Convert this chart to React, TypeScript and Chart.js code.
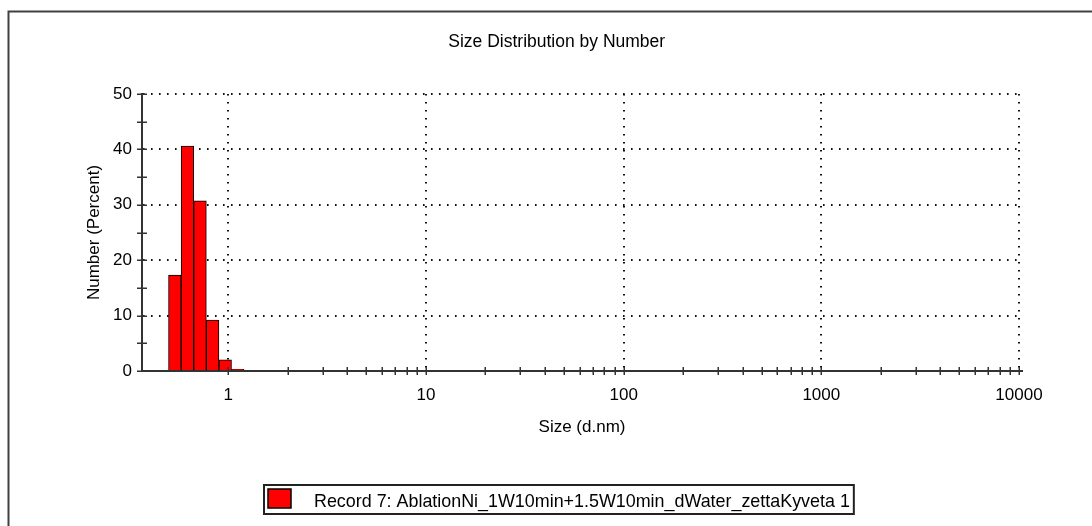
import React, { useEffect, useRef } from "react";
import { Chart, registerables } from "chart.js";

Chart.register(...registerables);

// ---- data ----
const chartTitle = "Size Distribution by Number";
const xAxisTitle = "Size (d.nm)";
const yAxisTitle = "Number (Percent)";
const seriesLabel = "Record 7: AblationNi_1W10min+1.5W10min_dWater_zettaKyveta 1";
const sizes = [0.5365, 0.6213, 0.7195, 0.8332, 0.9649, 1.117];
const numberPercent = [17.3, 40.6, 30.7, 9.2, 2.0, 0.3];
const xMajorTicks = [1, 10, 100, 1000, 10000];
const xMinorMultipliers = [2, 3, 4, 5, 6, 7, 8, 9];
const yTickValues = [0, 5, 10, 15, 20, 25, 30, 35, 40, 45, 50];
const yLabelTicks = [0, 10, 20, 30, 40, 50];
const xMin = 0.366;
const xMax = 10355;
const yMin = 0;
const yMax = 50;

const xTickValues: number[] = [];
xMajorTicks.forEach((m, i) => {
  xTickValues.push(m);
  if (i < xMajorTicks.length - 1) xMinorMultipliers.forEach((k) => xTickValues.push(m * k));
});
xTickValues.sort((a, b) => a - b);

const FONT_FAMILY = '"Liberation Sans", Arial, sans-serif';
const FONT_SIZE = 17;
const AXIS_COLOR = "#333333";
const GRID_COLOR = "#111111";

const decorPlugin = {
  id: "decor",
  afterDraw(chart: any) {
    const { ctx, chartArea } = chart;
    const xs = chart.scales.x;
    const ys = chart.scales.y;
    ctx.save();
    // outer frame
    ctx.strokeStyle = "#404040";
    ctx.lineWidth = 2;
    ctx.beginPath();
    ctx.moveTo(8.5, 540);
    ctx.lineTo(8.5, 11.5);
    ctx.lineTo(1110, 11.5);
    ctx.stroke();

    // crossing tick marks
    ctx.strokeStyle = AXIS_COLOR;
    ctx.lineWidth = 1.5;
    const axisY = ys.getPixelForValue(yMin);
    ctx.beginPath();
    xs.ticks.forEach((t: any) => {
      const px = Math.round(xs.getPixelForValue(t.value)) + 0.25;
      ctx.moveTo(px, axisY - 4);
      ctx.lineTo(px, axisY + 4);
    });
    const axisX = chartArea.left;
    ys.ticks.forEach((t: any) => {
      const py = Math.round(ys.getPixelForValue(t.value)) + 0.25;
      ctx.moveTo(axisX - 5, py);
      ctx.lineTo(axisX + 5, py);
    });
    ctx.stroke();

    // title
    ctx.font = `17.5px ${FONT_FAMILY}`;
    ctx.fillStyle = "#000";
    ctx.textAlign = "center";
    ctx.textBaseline = "alphabetic";
    ctx.fillText(chartTitle, 556.7, 47);

    // legend
    const ds = chart.data.datasets[0];
    const label = ds.label as string;
    ctx.font = `17.9px ${FONT_FAMILY}`;
    ctx.textAlign = "left";
    const textX = 314;
    const tw = ctx.measureText(label).width;
    ctx.strokeStyle = "#222";
    ctx.lineWidth = 2;
    ctx.strokeRect(264, 485, textX + tw + 4 - 264, 29);
    ctx.fillStyle = ds.backgroundColor;
    ctx.fillRect(268, 489, 23, 19);
    ctx.lineWidth = 1.5;
    ctx.strokeStyle = "#000";
    ctx.strokeRect(268, 489, 23, 19);
    ctx.fillStyle = "#000";
    ctx.fillText(label, textX, 507);
    ctx.restore();
  },
};

export default function App() {
  const canvasRef = useRef<HTMLCanvasElement | null>(null);

  useEffect(() => {
    if (!canvasRef.current) return;
    const font = { family: FONT_FAMILY, size: FONT_SIZE };
    const chart = new Chart(canvasRef.current, {
      type: "bar",
      data: {
        datasets: [
          {
            label: seriesLabel,
            data: sizes.map((s, i) => ({ x: s, y: numberPercent[i] })),
            backgroundColor: "#ff0000",
            borderColor: "#000000",
            borderWidth: 1,
            barThickness: "flex",
            barPercentage: 1,
            categoryPercentage: 1,
          },
        ],
      },
      options: {
        responsive: false,
        animation: false,
        devicePixelRatio: 1,
        layout: { padding: { left: 70, right: 70, top: 94, bottom: 75 } },
        plugins: {
          legend: { display: false },
          title: { display: false },
          tooltip: { enabled: false },
        },
        scales: {
          x: {
            type: "logarithmic",
            min: xMin,
            max: xMax,
            offset: false,
            afterBuildTicks: (scale: any) => {
              scale.ticks = xTickValues.map((v) => ({ value: v, major: xMajorTicks.includes(v) }));
            },
            afterFit: (scale: any) => {
              scale.height = 80;
            },
            ticks: {
              autoSkip: false,
              maxRotation: 0,
              minRotation: 0,
              padding: 14,
              color: "#000",
              font,
              callback: (value: any) => (xMajorTicks.includes(Number(value)) ? String(value) : ""),
            },
            grid: {
              offset: false,
              drawTicks: false,
              lineWidth: 2,
              color: (ctx: any) =>
                ctx.tick && xMajorTicks.includes(ctx.tick.value) ? GRID_COLOR : "rgba(0,0,0,0)",
            },
            border: { display: true, color: AXIS_COLOR, width: 2, dash: [1.6, 6.4] },
            title: {
              display: true,
              text: xAxisTitle,
              color: "#000",
              font,
              padding: { top: 0, bottom: 13 },
            },
          },
          y: {
            type: "linear",
            min: yMin,
            max: yMax,
            afterBuildTicks: (scale: any) => {
              scale.ticks = yTickValues.map((v) => ({ value: v }));
            },
            afterFit: (scale: any) => {
              scale.width = 72;
            },
            ticks: {
              padding: 10,
              color: "#000",
              font,
              callback: (value: any) => (yLabelTicks.includes(Number(value)) ? String(value) : ""),
            },
            grid: {
              drawTicks: false,
              lineWidth: 2,
              color: (ctx: any) =>
                ctx.tick && ctx.tick.value > 0 && yLabelTicks.includes(ctx.tick.value)
                  ? GRID_COLOR
                  : "rgba(0,0,0,0)",
            },
            border: { display: true, color: AXIS_COLOR, width: 2, dash: [1.6, 6.4] },
            title: {
              display: true,
              text: yAxisTitle,
              color: "#000",
              font,
              padding: { top: 14, bottom: 0 },
            },
          },
        },
      },
      plugins: [decorPlugin],
    });
    return () => chart.destroy();
  }, []);

  return (
    <div style={{ position: "absolute", left: 0, top: 0, width: 1092, height: 526, background: "#fff" }}>
      <canvas ref={canvasRef} width={1092} height={526} />
    </div>
  );
}
